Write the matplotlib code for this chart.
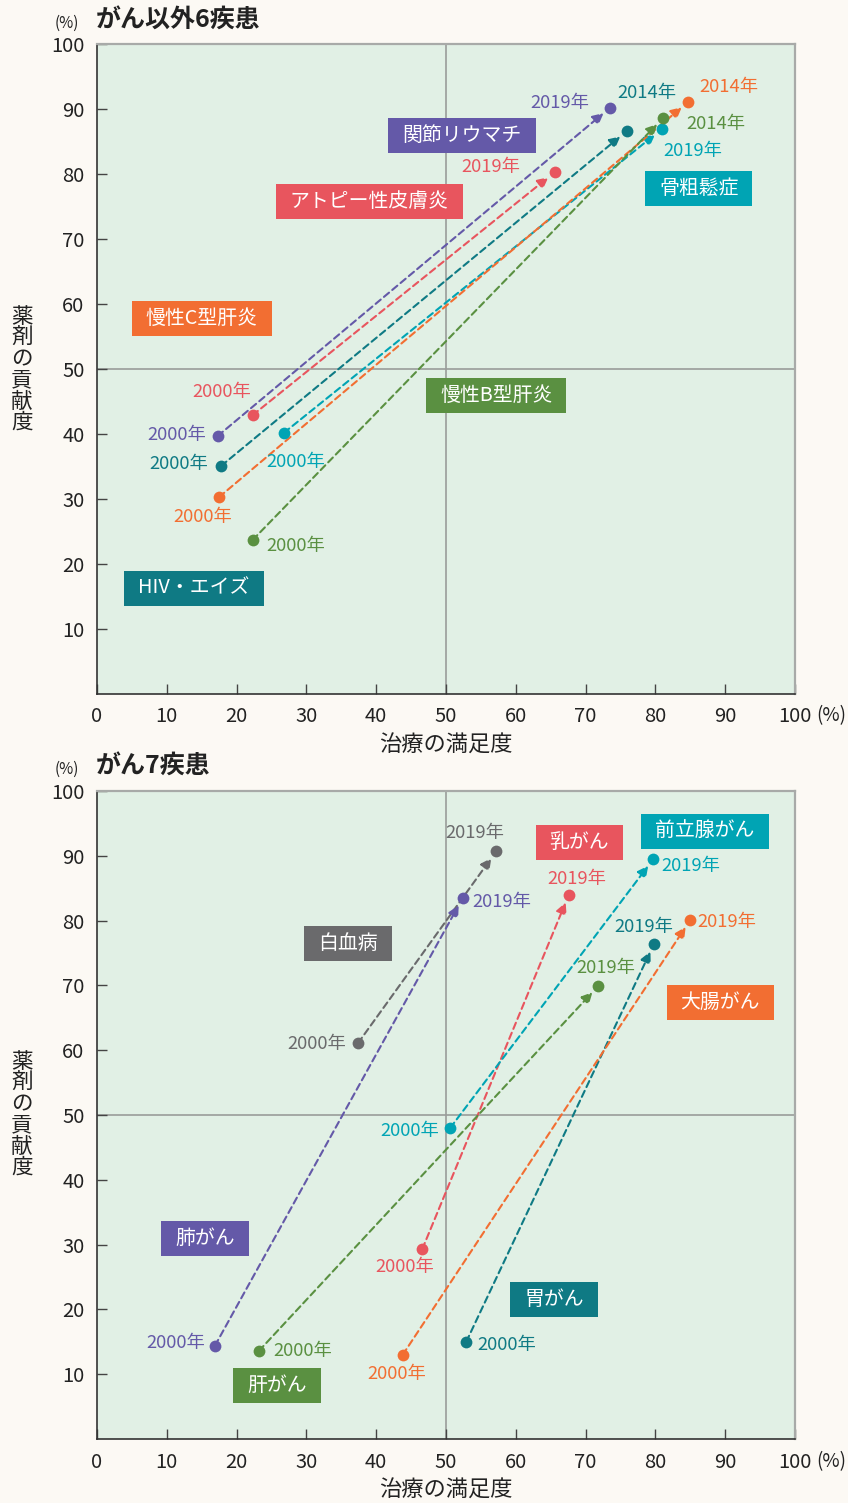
import matplotlib as mpl
import matplotlib.pyplot as plt
from matplotlib.patches import Rectangle
from matplotlib.transforms import IdentityTransform

plt.rcParams['font.family'] = ['Noto Sans CJK JP', 'DejaVu Sans']

# ---------------- data: がん以外6疾患 ----------------
top_names = ['関節リウマチ', 'アトピー性皮膚炎', 'HIV・エイズ', '骨粗鬆症', '慢性C型肝炎', '慢性B型肝炎']
top_x0 = [17.3, 22.3, 17.8, 26.8, 17.5, 22.3]
top_y0 = [39.7, 42.9, 35.1, 40.2, 30.3, 23.7]
top_x1 = [73.5, 65.6, 75.9, 80.9, 84.7, 81.1]
top_y1 = [90.2, 80.3, 86.6, 86.9, 91.1, 88.6]
top_year0 = ['2000年', '2000年', '2000年', '2000年', '2000年', '2000年']
top_year1 = ['2019年', '2019年', '2014年', '2019年', '2014年', '2014年']

# ---------------- data: がん7疾患 ----------------
bot_names = ['白血病', '肺がん', '乳がん', '前立腺がん', '胃がん', '大腸がん', '肝がん']
bot_x0 = [37.4, 16.9, 46.6, 50.6, 52.9, 43.8, 23.2]
bot_y0 = [61.1, 14.4, 29.3, 48.0, 15.0, 13.0, 13.6]
bot_x1 = [57.2, 52.4, 67.6, 79.7, 79.8, 85.0, 71.8]
bot_y1 = [90.7, 83.5, 84.0, 89.5, 76.4, 80.1, 69.9]
bot_year0 = ['2000年'] * 7
bot_year1 = ['2019年'] * 7

ticks = [0, 10, 20, 30, 40, 50, 60, 70, 80, 90, 100]

# ---------------- styles / layout ----------------
PURPLE = '#6459a8'
RED = '#e8555e'
TEAL = '#0f7a84'
CYAN = '#00a4b4'
ORANGE = '#f26e32'
GREEN = '#5a9041'
GRAY = '#6a6a6c'

top_colors = [PURPLE, RED, TEAL, CYAN, ORANGE, GREEN]
bot_colors = [GRAY, PURPLE, RED, CYAN, TEAL, ORANGE, GREEN]

# box centres (data coords)
top_box = [(52.3, 86.0), (39.0, 75.8), (13.9, 16.3), (86.2, 77.7), (15.0, 57.8), (57.2, 46.0)]
bot_box = [(36.0, 76.5), (15.5, 30.9), (69.1, 92.0), (87.1, 93.8), (65.5, 21.6), (89.3, 67.3), (25.8, 8.3)]

# year label offsets in pixels (start, end)
top_off0 = [(-41, 1), (-31, 23), (-42, 2), (12, -29), (-16, -20), (43, -6)]
top_off1 = [(-50, 5), (-64, 5), (20, 38), (31, -22), (41, 15), (53, -6)]
bot_off0 = [(-41, -1), (-39, 3), (-18, -18), (-40, -3), (41, -3), (-6, -19), (44, 0)]
bot_off1 = [(-21, 18), (39, -4), (8, 16), (38, -7), (-10, 17), (37, -2), (8, 18)]

W, H = 848, 1503
fig = plt.figure(figsize=(W / 100, H / 100), dpi=100)
fig.patch.set_facecolor('#fcf9f4')


def fx(px):
    return px / W


def fy(py):
    return 1 - py / H


boxes = []


def panel(rect, names, x0, y0, x1, y1, yr0, yr1, colors, box, off0, off1):
    ax = fig.add_axes(rect)
    ax.set_facecolor('#e1f0e5')
    ax.set_xlim(0, 100)
    ax.set_ylim(0, 100)
    ax.set_xticks(ticks)
    ax.set_yticks(ticks[1:])
    ax.tick_params(direction='in', length=7, width=1, color='#444444',
                   labelsize=14.5, labelcolor='#222222')
    ax.tick_params(axis='x', pad=9)
    ax.tick_params(axis='y', pad=9)
    for s in ['left', 'bottom']:
        ax.spines[s].set_color('#333333')
        ax.spines[s].set_linewidth(1.2)
    for s in ['top', 'right']:
        ax.spines[s].set_color('#a8aaa8')
        ax.spines[s].set_linewidth(1.6)
    ax.axvline(50, color='#9a9c9a', lw=1.2, zorder=1)
    ax.axhline(50, color='#9a9c9a', lw=1.2, zorder=1)

    for i in range(len(names)):
        c = colors[i]
        ax.annotate('', xy=(x1[i], y1[i]), xytext=(x0[i], y0[i]),
                    arrowprops=dict(arrowstyle='-|>', color=c, lw=1.5,
                                    linestyle=(0, (3.2, 2)), shrinkA=0, shrinkB=6,
                                    mutation_scale=16), zorder=2)
        ax.scatter([x0[i], x1[i]], [y0[i], y1[i]], s=72, color=c, zorder=3, linewidths=0)
        ax.annotate(yr0[i], xy=(x0[i], y0[i]), xytext=off0[i], textcoords='offset pixels',
                    ha='center', va='center', fontsize=13.2, color=c)
        ax.annotate(yr1[i], xy=(x1[i], y1[i]), xytext=off1[i], textcoords='offset pixels',
                    ha='center', va='center', fontsize=13.2, color=c)
        t = ax.text(box[i][0], box[i][1], names[i], ha='center', va='center',
                    fontsize=14.3, color='white', zorder=6)
        boxes.append((ax, t, c))
    return ax


ax1 = panel([fx(97), fy(694), fx(795) - fx(97), fy(44) - fy(694)],
            top_names, top_x0, top_y0, top_x1, top_y1, top_year0, top_year1,
            top_colors, top_box, top_off0, top_off1)
ax2 = panel([fx(97), fy(1439), fx(795) - fx(97), fy(791) - fy(1439)],
            bot_names, bot_x0, bot_y0, bot_x1, bot_y1, bot_year0, bot_year1,
            bot_colors, bot_box, bot_off0, bot_off1)

# titles and axis labels
for ty, title in [(20, 'がん以外6疾患'), (766, 'がん7疾患')]:
    fig.text(fx(96), fy(ty), title, fontsize=18, fontweight='bold', color='#222222',
             ha='left', va='center')
    fig.text(fx(67), fy(ty + 3), '(%)', fontsize=11, color='#222222', ha='center', va='center')

for ly, lx_y in [(745, 370), (1490, 1115)]:
    fig.text(fx(446), fy(ly), '治療の満足度', fontsize=16, color='#222222',
             ha='center', va='center')
    fig.text(fx(22), fy(lx_y), '\n'.join('薬剤の貢献度'), fontsize=15.5, color='#222222',
             ha='center', va='center', linespacing=0.95)

for py in [716, 1462]:
    fig.text(fx(831), fy(py), '(%)', fontsize=13.5, color='#222222', ha='center', va='center')

# coloured boxes behind the disease names
fig.canvas.draw()
r = fig.canvas.get_renderer()
for ax, t, c in boxes:
    bb = t.get_window_extent(r)
    cx = (bb.x0 + bb.x1) / 2
    cy = (bb.y0 + bb.y1) / 2
    w = bb.width + 28
    h = 35
    rect = Rectangle((cx - w / 2, cy - h / 2), w, h, transform=IdentityTransform(),
                     facecolor=c, edgecolor='none', zorder=5)
    ax.add_artist(rect)

fig.savefig('out.png', dpi=100, facecolor=fig.get_facecolor())
